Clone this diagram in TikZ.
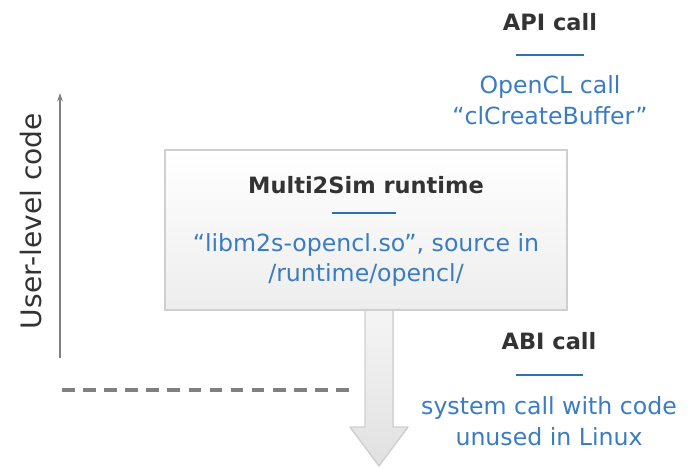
\documentclass[tikz,border=0pt]{standalone}
\usepackage{fontspec}
\setmainfont{DejaVu Sans}
\usetikzlibrary{arrows.meta}
\definecolor{titlegray}{HTML}{333333}
\definecolor{textblue}{HTML}{3A7CC4}
\definecolor{lineblue}{HTML}{2F6FB5}
\definecolor{boxline}{HTML}{CFCFCF}
\definecolor{axisgray}{HTML}{808080}
\begin{document}
\begin{tikzpicture}[x=0.025cm, y=-0.025cm,
  font=\fontsize{16.8}{22}\selectfont,
  title/.style={font=\fontsize{16}{22}\selectfont\bfseries, text=titlegray},
  desc/.style={text=textblue, align=center},
  rule/.style={draw=lineblue, line width=1.2pt},
  runbox/.style={draw=boxline, line width=1pt, top color=white, bottom color=black!7,
    minimum width=10.05cm, minimum height=4cm}]
  \useasboundingbox (0,0) rectangle (690,467);
  % API call
  \node[title] (api) at (550,22) {API call};
  \draw[rule] (516,55) -- (584,55);
  \node[desc] (apidesc) at (550,100) {OpenCL call\\“clCreateBuffer”};
  % downward call arrow
  \coordinate (a1) at (365,309);
  \coordinate (a2) at (393,309);
  \fill[top color=black!4, bottom color=black!12]
    (a1) -- (365,427) -- (350,427) -- (379,466) -- (408,427) -- (393,427) -- (a2) -- cycle;
  \draw[boxline, line width=1pt, line join=round]
    (a1) -- (365,427) -- (350,427) -- (379,466) -- (408,427) -- (393,427) -- (a2);
  % runtime box
  \node[runbox] (runtime) at (366,230) {};
  \node[title] (rttitle) at (366,185) {Multi2Sim runtime};
  \draw[rule] (332,213) -- (396,213);
  \node[desc] (rtdesc) at (366,260) {“libm2s-opencl.so”, source in\\/runtime/opencl/};
  % user-level axis
  \coordinate (ulbot) at (60,358);
  \coordinate (ultop) at (60,93);
  \draw[axisgray, line width=0.9pt, -{Stealth[length=6pt,width=4pt]}] (ulbot) -- (ultop);
  \node[text=titlegray, rotate=90, font=\fontsize{20}{24}\selectfont] (userlvl) at (31,221) {User-level code};
  \coordinate (dl) at (62,390);
  \coordinate (dr) at (356,390);
  \draw[axisgray, line width=3.5pt, dash pattern=on 9pt off 6pt] (dl) -- (dr);
  % ABI call
  \node[title] (abi) at (549,341) {ABI call};
  \draw[rule] (516,375) -- (583,375);
  \node[desc] (abidesc) at (549,421) {system call with code\\unused in Linux};
\end{tikzpicture}
\end{document}
